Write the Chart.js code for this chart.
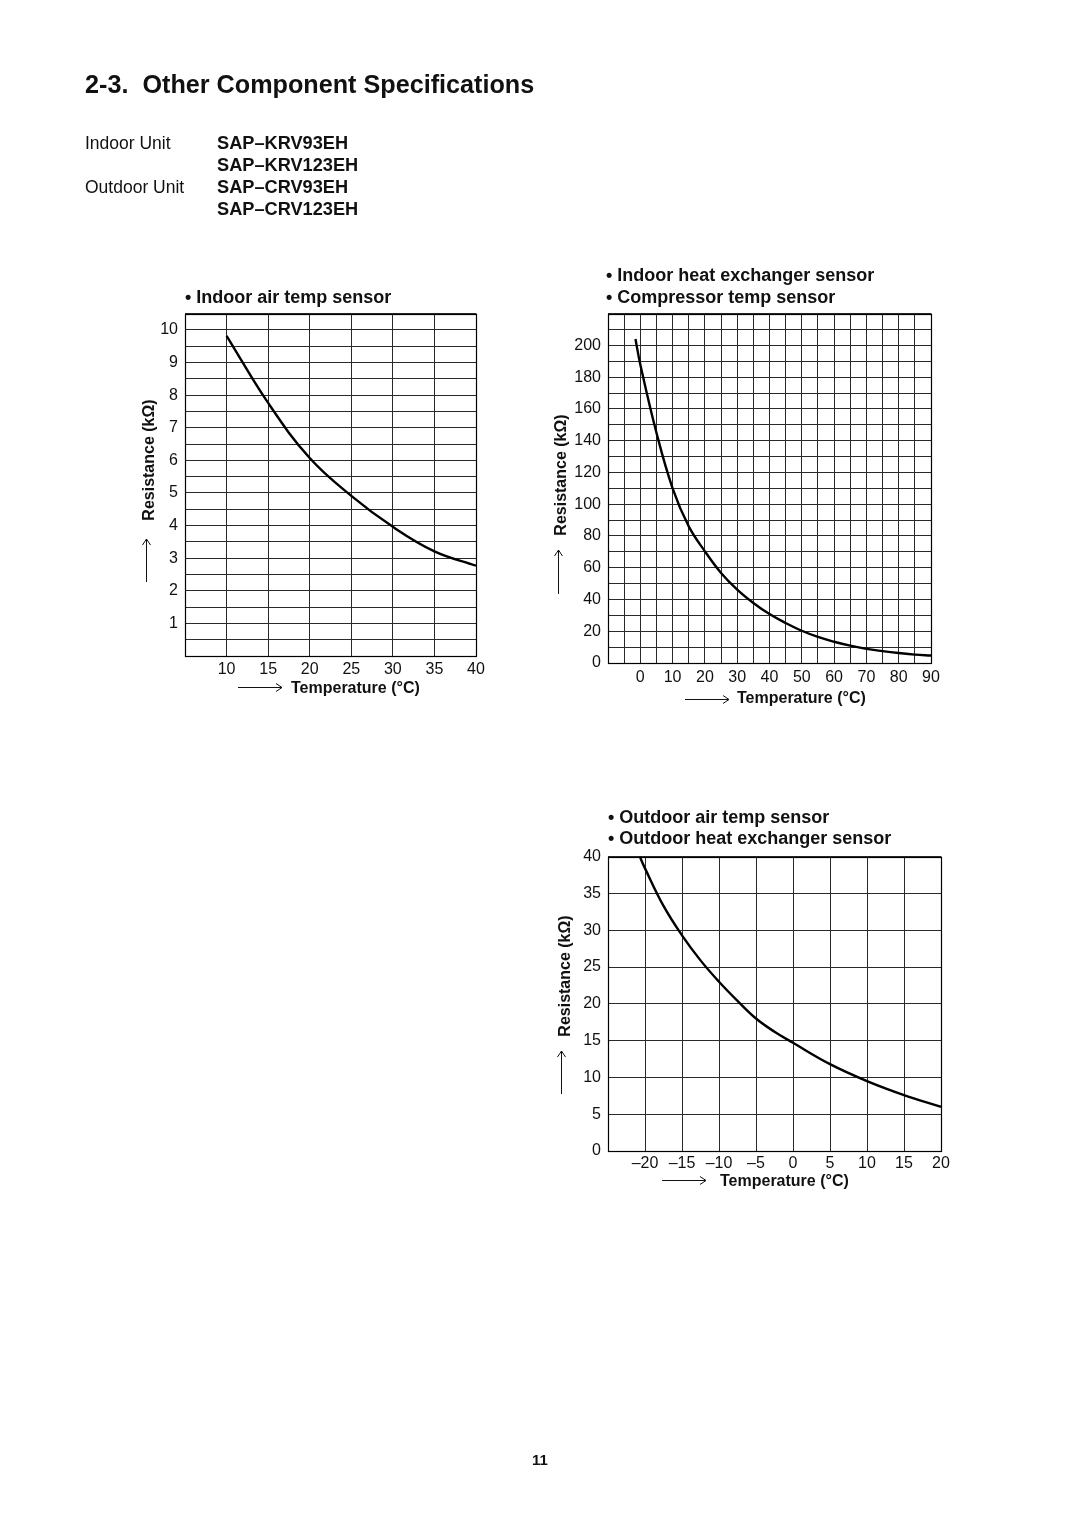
<!DOCTYPE html>
<html>
<head>
<meta charset="utf-8">
<script src="https://cdn.jsdelivr.net/npm/chart.js@4.4.1/dist/chart.umd.min.js"></script>
<style>
html,body{margin:0;padding:0;background:#fff;}
#page{position:relative;width:1080px;height:1528px;overflow:hidden;background:#fff;font-family:"Liberation Sans",Arial,Helvetica,sans-serif;}
#page canvas{position:absolute;}
#overlay{position:absolute;left:0;top:0;}
#overlay text{font-family:"Liberation Sans",Arial,Helvetica,sans-serif;fill:#111;}
</style>
</head>
<body>
<div id="page">
  <canvas id="c1" width="370" height="391" style="left:120px;top:297px"></canvas>
  <canvas id="c2" width="410" height="397" style="left:540px;top:297px"></canvas>
  <canvas id="c3" width="420" height="350" style="left:540px;top:840px"></canvas>
  <svg id="overlay" width="1080" height="1528" xmlns="http://www.w3.org/2000/svg">
    <text x="85" y="93" font-size="25.2" font-weight="bold" xml:space="preserve">2-3.  Other Component Specifications</text>

    <text x="85" y="149" font-size="17.5">Indoor Unit</text>
    <text x="217" y="149" font-size="18.2" font-weight="bold">SAP–KRV93EH</text>
    <text x="217" y="171" font-size="18.2" font-weight="bold">SAP–KRV123EH</text>
    <text x="85" y="193" font-size="17.5">Outdoor Unit</text>
    <text x="217" y="193" font-size="18.2" font-weight="bold">SAP–CRV93EH</text>
    <text x="217" y="215" font-size="18.2" font-weight="bold">SAP–CRV123EH</text>

    <!-- chart 1 titles -->
    <text x="185" y="303" font-size="18" font-weight="bold">• Indoor air temp sensor</text>
    <text transform="translate(148,460) rotate(-90)" text-anchor="middle" dominant-baseline="central" font-size="16" font-weight="bold">Resistance (kΩ)</text>
    <path d="M146.5 582 L146.5 539 M142.5 545 L146.5 539 L150.5 545" stroke="#111" stroke-width="1" fill="none"/>
    <text x="291" y="693" font-size="16" font-weight="bold">Temperature (°C)</text>
    <path d="M238 687.5 L282 687.5 M276 683.5 L282 687.5 L276 691.5" stroke="#111" stroke-width="1" fill="none"/>

    <!-- chart 2 titles -->
    <text x="606" y="281" font-size="18" font-weight="bold">• Indoor heat exchanger sensor</text>
    <text x="606" y="303" font-size="18" font-weight="bold">• Compressor temp sensor</text>
    <text transform="translate(560,475) rotate(-90)" text-anchor="middle" dominant-baseline="central" font-size="16" font-weight="bold">Resistance (kΩ)</text>
    <path d="M558.5 594 L558.5 550 M554.5 556 L558.5 550 L562.5 556" stroke="#111" stroke-width="1" fill="none"/>
    <text x="737" y="703" font-size="16" font-weight="bold">Temperature (°C)</text>
    <path d="M685 699.5 L729 699.5 M723 695.5 L729 699.5 L723 703.5" stroke="#111" stroke-width="1" fill="none"/>

    <!-- chart 3 titles -->
    <text x="608" y="823" font-size="18" font-weight="bold">• Outdoor air temp sensor</text>
    <text x="608" y="844" font-size="18" font-weight="bold">• Outdoor heat exchanger sensor</text>
    <text transform="translate(564,976) rotate(-90)" text-anchor="middle" dominant-baseline="central" font-size="16" font-weight="bold">Resistance (kΩ)</text>
    <path d="M561.5 1094 L561.5 1051 M557.5 1057 L561.5 1051 L565.5 1057" stroke="#111" stroke-width="1" fill="none"/>
    <text x="720" y="1186" font-size="16" font-weight="bold">Temperature (°C)</text>
    <path d="M662 1180.5 L706 1180.5 M700 1176.5 L706 1180.5 L700 1184.5" stroke="#111" stroke-width="1" fill="none"/>

    <text x="540" y="1465" font-size="15" font-weight="bold" text-anchor="middle">11</text>
  </svg>
</div>
<script>
// ---------- DATA ----------
// Chart 1: Indoor air temp sensor
const indoorAirTemp = [10, 15, 20, 25, 30, 35, 40];
const indoorAirRes  = [9.82, 7.76, 6.07, 4.91, 3.96, 3.21, 2.77];
const c1XTickValues = [10, 15, 20, 25, 30, 35, 40];
const c1XTickLabels = ['10', '15', '20', '25', '30', '35', '40'];
const c1YTickValues = [1, 2, 3, 4, 5, 6, 7, 8, 9, 10];
const c1YTickLabels = ['1', '2', '3', '4', '5', '6', '7', '8', '9', '10'];

// Chart 2: Indoor heat exchanger / compressor temp sensor
const heatExTemp = [-1.5, 0, 5, 10, 15, 20, 25, 30, 35, 40, 45, 50, 55, 60, 65, 70, 75, 80, 85, 90];
const heatExRes  = [204, 188, 145, 110, 86, 70.3, 56.7, 46.2, 37.8, 30.8, 25.2, 20.3, 16.4, 13.4, 10.9, 8.9, 7.5, 6.3, 5.3, 4.7];
const c2XTickValues = [0, 10, 20, 30, 40, 50, 60, 70, 80, 90];
const c2XTickLabels = ['0', '10', '20', '30', '40', '50', '60', '70', '80', '90'];
const c2YTickValues = [0, 20, 40, 60, 80, 100, 120, 140, 160, 180, 200];
const c2YTickLabels = ['0', '20', '40', '60', '80', '100', '120', '140', '160', '180', '200'];

// Chart 3: Outdoor air temp / outdoor heat exchanger sensor
const outdoorTemp = [-20.7, -20, -17.5, -15, -12.5, -10, -7.5, -5, -2.5, 0, 5, 10, 15, 20];
const outdoorRes  = [40, 38.4, 33.3, 29.3, 25.9, 23.0, 20.4, 18.0, 16.2, 14.7, 11.8, 9.5, 7.6, 6.0];
const c3XTickValues = [-20, -15, -10, -5, 0, 5, 10, 15, 20];
const c3XTickLabels = ['–20', '–15', '–10', '–5', '0', '5', '10', '15', '20'];
const c3YTickValues = [0, 5, 10, 15, 20, 25, 30, 35, 40];
const c3YTickLabels = ['0', '5', '10', '15', '20', '25', '30', '35', '40'];

// ---------- CHARTS ----------
const FONT = '"Liberation Sans", Arial, Helvetica, sans-serif';

const framePlugin = {
  id: 'frame',
  afterDraw(chart) {
    const {ctx, chartArea: a} = chart;
    ctx.save();
    ctx.strokeStyle = '#000';
    ctx.lineWidth = 1.2;
    ctx.strokeRect(Math.round(a.left) + 0.5, Math.round(a.top) + 0.5,
                   Math.round(a.right - a.left), Math.round(a.bottom - a.top));
    ctx.restore();
  }
};

function labelFor(values, labels) {
  return function (v) {
    const i = values.findIndex(t => Math.abs(t - v) < 1e-9);
    return i >= 0 ? labels[i] : '';
  };
}

function makeChart(id, opts) {
  const points = opts.xs.map((x, i) => ({x: x, y: opts.ys[i]}));
  return new Chart(document.getElementById(id), {
    type: 'line',
    data: {
      datasets: [{
        data: points,
        borderColor: '#000',
        borderWidth: 2.4,
        pointRadius: 0,
        fill: false,
        tension: 0.4
      }]
    },
    options: {
      responsive: false,
      animation: false,
      devicePixelRatio: 1,
      layout: {padding: opts.padding},
      plugins: {legend: {display: false}, tooltip: {enabled: false}, title: {display: false}},
      scales: {
        x: {
          type: 'linear',
          min: opts.xMin, max: opts.xMax,
          afterFit: s => { s.height = opts.xHeight; },
          grid: {color: '#2a2a2a', lineWidth: 1, drawTicks: false},
          border: {display: false},
          ticks: {
            stepSize: opts.xStep, autoSkip: false, maxRotation: 0, minRotation: 0,
            maxTicksLimit: 1000, padding: opts.xPad,
            color: '#111', font: {family: FONT, size: 16},
            callback: labelFor(opts.xTickValues, opts.xTickLabels)
          }
        },
        y: {
          type: 'linear',
          min: opts.yMin, max: opts.yMax,
          afterFit: s => { s.width = opts.yWidth; },
          grid: {color: '#2a2a2a', lineWidth: 1, drawTicks: false},
          border: {display: false},
          ticks: {
            stepSize: opts.yStep, autoSkip: false, maxTicksLimit: 1000, padding: 7,
            color: '#111', font: {family: FONT, size: 16},
            callback: labelFor(opts.yTickValues, opts.yTickLabels)
          }
        }
      }
    },
    plugins: [framePlugin]
  });
}

makeChart('c1', {
  xs: indoorAirTemp, ys: indoorAirRes,
  xMin: 5, xMax: 40, xStep: 5, yMin: 0, yMax: 10.5, yStep: 0.5,
  xTickValues: c1XTickValues, xTickLabels: c1XTickLabels,
  yTickValues: c1YTickValues, yTickLabels: c1YTickLabels,
  padding: {top: 10, right: 14, left: 0, bottom: 0},
  yWidth: 65, xHeight: 32, xPad: 4
});

makeChart('c2', {
  xs: heatExTemp, ys: heatExRes,
  xMin: -10, xMax: 90, xStep: 5, yMin: 0, yMax: 220, yStep: 10,
  xTickValues: c2XTickValues, xTickLabels: c2XTickLabels,
  yTickValues: c2YTickValues, yTickLabels: c2YTickLabels,
  padding: {top: 10, right: 19, left: 0, bottom: 0},
  yWidth: 68, xHeight: 31, xPad: 5
});

makeChart('c3', {
  xs: outdoorTemp, ys: outdoorRes,
  xMin: -25, xMax: 20, xStep: 5, yMin: 0, yMax: 40, yStep: 5,
  xTickValues: c3XTickValues, xTickLabels: c3XTickLabels,
  yTickValues: c3YTickValues, yTickLabels: c3YTickLabels,
  padding: {top: 12, right: 19, left: 0, bottom: 0},
  yWidth: 68, xHeight: 39, xPad: 3
});
</script>
</body>
</html>
